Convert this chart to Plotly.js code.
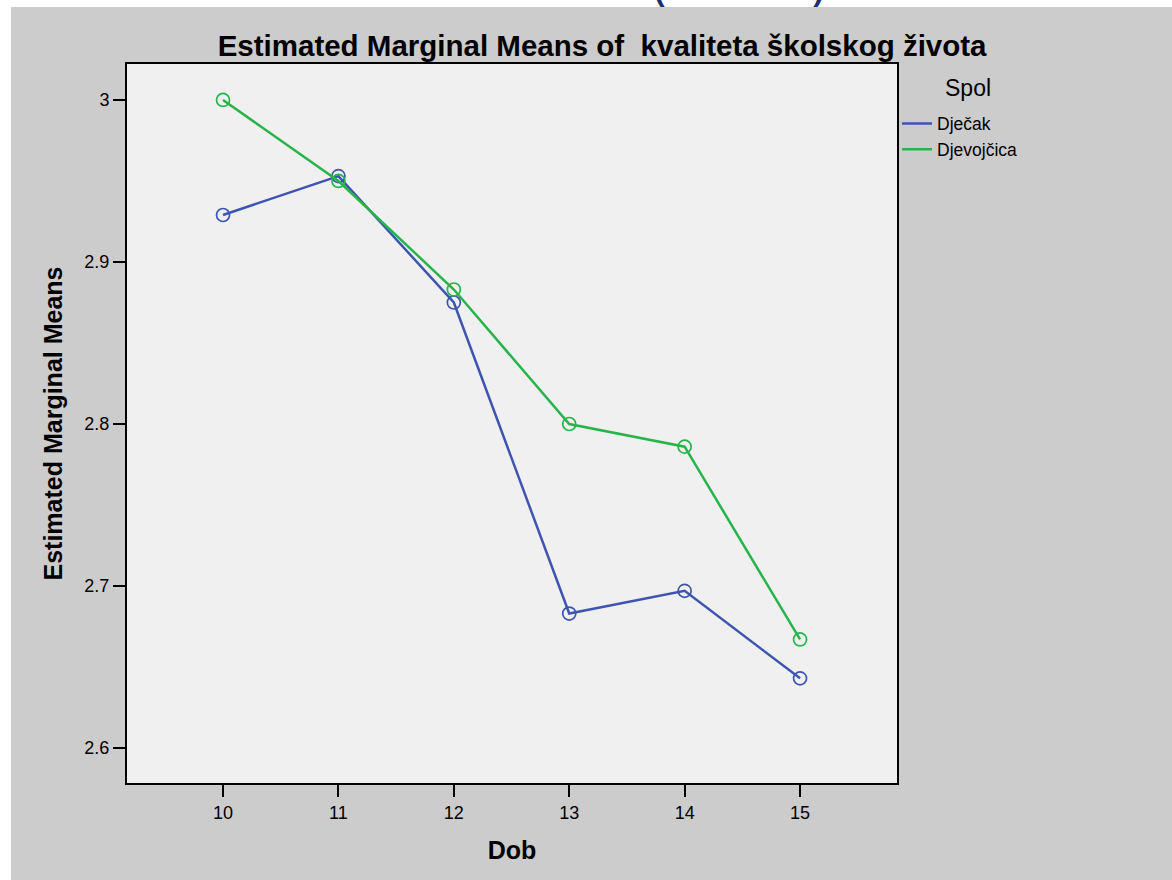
<!DOCTYPE html>
<html>
<head>
<meta charset="utf-8">
<script src="https://cdn.plot.ly/plotly-3.0.1.min.js"></script>
<style>
  html, body { margin: 0; padding: 0; background: #ffffff; width: 1172px; height: 880px; overflow: hidden; }
  #top { position: absolute; left: 0; top: 0; width: 1172px; height: 7px; overflow: hidden; }
  #top span { position: absolute; font-family: "Liberation Sans", Arial, sans-serif; font-size: 48px; line-height: 48px; color: #1c2f6e; top: -39px; }
  #chart { position: absolute; left: 11px; top: 7px; width: 1161px; height: 873px; }
</style>
</head>
<body>
<div id="top"><span style="left:652px">(</span><span style="left:810px">)</span></div>
<div id="chart"></div>
<script>
const dob = [10, 11, 12, 13, 14, 15];
const djecak = [2.929, 2.953, 2.875, 2.683, 2.697, 2.643];
const djevojcica = [3.000, 2.950, 2.883, 2.800, 2.786, 2.667];
const seriesNames = ["Dječak", "Djevojčica"];
const seriesColors = ["#3d55b0", "#27b44a"];
const yTicks = [2.6, 2.7, 2.8, 2.9, 3.0];
const yTickText = ["2.6", "2.7", "2.8", "2.9", "3"];
const xTicks = [10, 11, 12, 13, 14, 15];

const font = "Liberation Sans, Arial, sans-serif";
const seriesData = [djecak, djevojcica];

const traces = [];
seriesData.forEach((vals, i) => {
  traces.push({
    x: dob, y: vals, type: "scatter", mode: "lines+markers",
    name: seriesNames[i], showlegend: false,
    line: { color: seriesColors[i], width: 2.5 },
    marker: { symbol: "circle-open", size: 13, color: seriesColors[i], line: { width: 1.7, color: seriesColors[i] } },
    hoverinfo: "x+y+name"
  });
});
seriesData.forEach((vals, i) => {
  traces.push({
    x: [null], y: [null], type: "scatter", mode: "lines",
    name: seriesNames[i], showlegend: true,
    line: { color: seriesColors[i], width: 2.5 }
  });
});

const layout = {
  width: 1161, height: 873,
  margin: { l: 116, r: 275, t: 57, b: 97 },
  paper_bgcolor: "#cccccc",
  plot_bgcolor: "#f0f0f0",
  font: { family: font, color: "#000000" },
  title: {
    text: "Estimated Marginal Means of \u00a0kvaliteta školskog života",
    font: { family: font, size: 29.5, color: "#000000", weight: "bold" },
    xref: "paper", x: 0.617, xanchor: "center",
    yref: "container", y: 0.956, yanchor: "middle"
  },
  xaxis: {
    range: [9.168, 15.84],
    tickmode: "array", tickvals: xTicks, ticktext: xTicks.map(String),
    ticks: "outside", ticklen: 12, tickwidth: 2, tickcolor: "#000000",
    tickfont: { family: font, size: 18, color: "#000000" },
    showline: true, linecolor: "#000000", linewidth: 2, mirror: true,
    showgrid: false, zeroline: false,
    title: { text: "Dob", font: { family: font, size: 25, color: "#000000", weight: "bold" }, standoff: 20 }
  },
  yaxis: {
    range: [2.5784, 3.0222],
    tickmode: "array", tickvals: yTicks, ticktext: yTickText,
    ticks: "outside", ticklen: 12, tickwidth: 2, tickcolor: "#000000",
    tickfont: { family: font, size: 18, color: "#000000" },
    showline: true, linecolor: "#000000", linewidth: 2, mirror: true,
    showgrid: false, zeroline: false,
    title: { text: "Estimated Marginal Means", font: { family: font, size: 25, color: "#000000", weight: "bold" }, standoff: 15 }
  },
  legend: {
    x: 1.0, xanchor: "left", y: 0.942, yanchor: "top",
    bgcolor: "rgba(0,0,0,0)", borderwidth: 0,
    font: { family: font, size: 17.5, color: "#000000" },
    itemwidth: 30
  },
  annotations: [{
    text: "Spol", xref: "paper", yref: "paper", x: 1.0597, y: 0.9666,
    xanchor: "left", yanchor: "middle", showarrow: false,
    font: { family: font, size: 23, color: "#000000" }
  }],
  showlegend: true
};

Plotly.newPlot("chart", traces, layout, { displayModeBar: false, staticPlot: true });
</script>
</body>
</html>
